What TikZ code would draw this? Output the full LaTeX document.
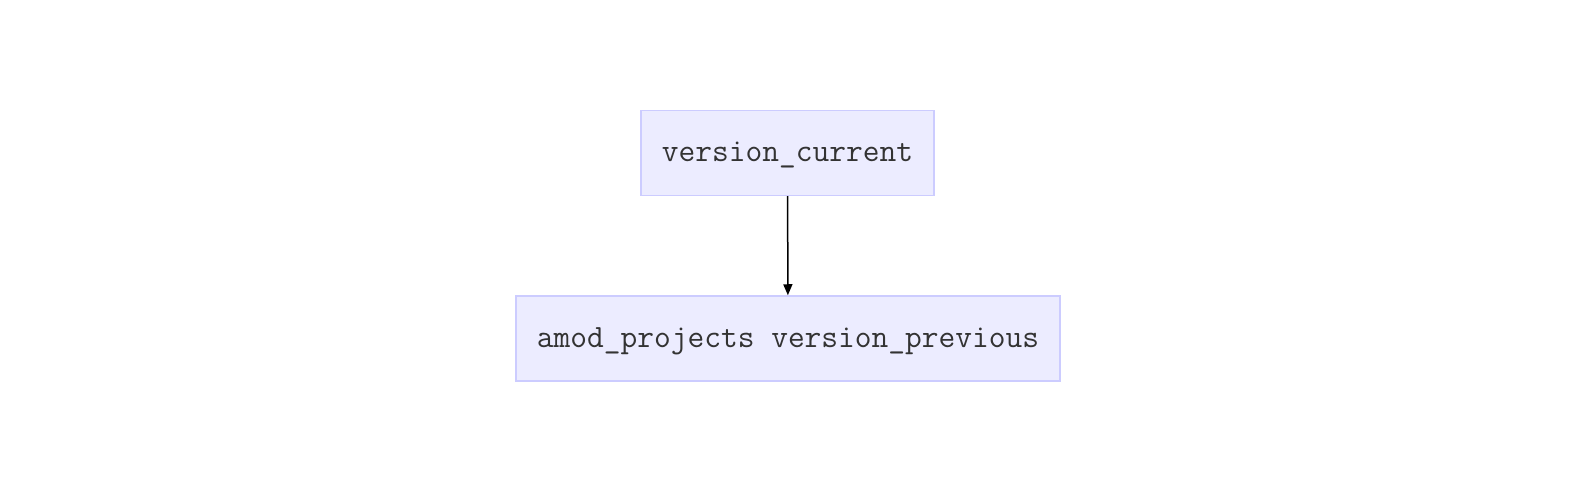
\documentclass[tikz,border=0pt]{standalone}
\usepackage{fontspec}
\usetikzlibrary{arrows.meta}
\definecolor{boxfill}{HTML}{ECECFF}
\definecolor{boxdraw}{HTML}{CCCCFF}
\definecolor{txt}{HTML}{333333}
\tikzset{
  mbox/.style={draw=boxdraw, fill=boxfill, line width=1.5pt, minimum height=85pt, inner sep=0pt, text height=24pt, text depth=6pt, text=txt, font=\ttfamily\fontsize{32.5}{35}\selectfont},
  conn/.style={draw=black, line width=1.5pt, -{Triangle[length=11pt,width=9pt]}}
}
\begin{document}
\begin{tikzpicture}[x=1pt,y=1pt]
\useasboundingbox (0,0) rectangle (1574,498);
\node[mbox, minimum width=293pt] (a) at (787.5,345) {version\_current};
\node[mbox, minimum width=544pt] (b) at (788,159.5) {amod\_projects version\_previous};
\draw[conn] (a) -- (b);
\end{tikzpicture}
\end{document}
